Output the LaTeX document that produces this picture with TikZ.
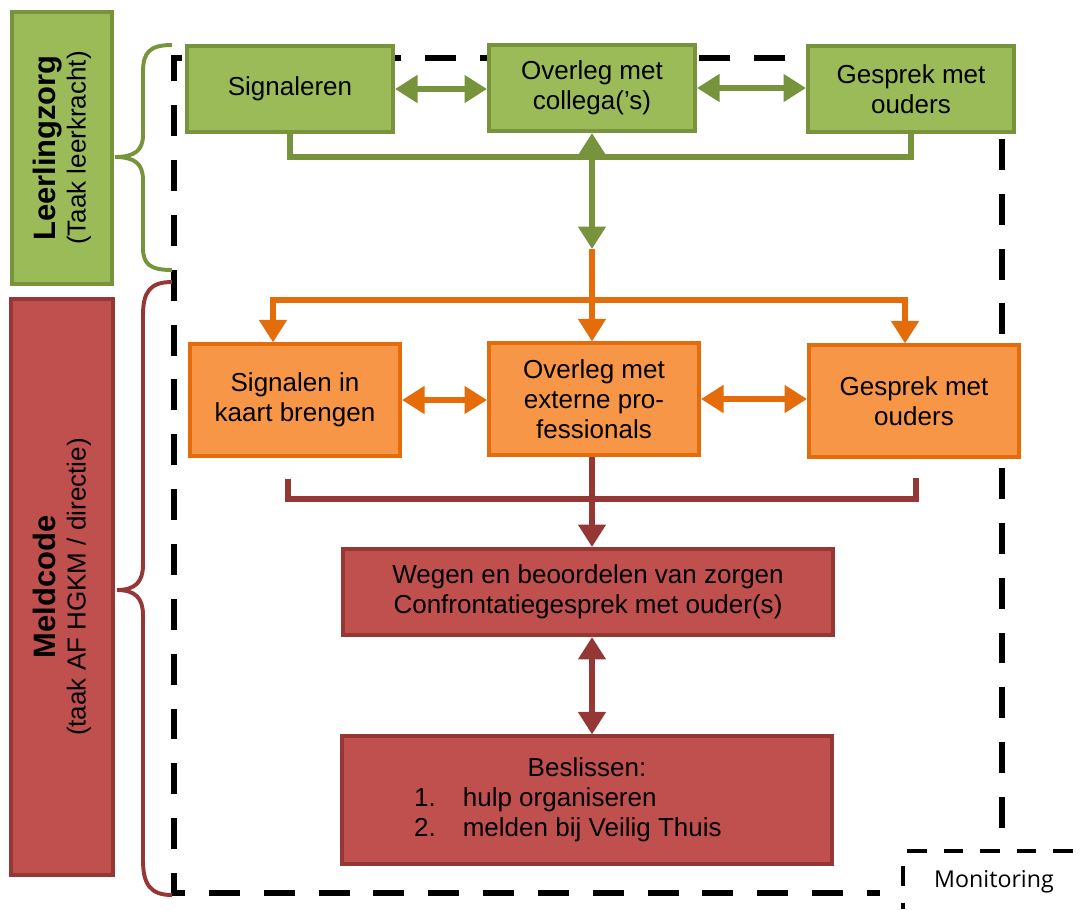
\documentclass[tikz,border=0pt]{standalone}
\usepackage{fontspec}
\setmainfont{Liberation Sans}
\newfontfamily\monfont{Open Sans}
\usetikzlibrary{arrows.meta}

\definecolor{grfill}{HTML}{9BBB59}
\definecolor{grline}{HTML}{77933C}
\definecolor{orfill}{HTML}{F79646}
\definecolor{orline}{HTML}{E46C0A}
\definecolor{rdfill}{HTML}{C0504D}
\definecolor{rdline}{HTML}{953735}

\tikzset{
  bigtip/.tip={Triangle[length=16pt, width=19pt]},
  box/.style={line width=2.8pt, align=center, inner sep=2pt,
    font=\fontsize{18.5}{21.5}\selectfont},
  greenbox/.style={box, draw=grline, fill=grfill, minimum width=5.15cm, minimum height=2.15cm},
  orangebox/.style={box, draw=orline, fill=orfill, minimum width=5.25cm, minimum height=2.78cm},
  redbox/.style={box, draw=rdline, fill=rdfill, minimum width=12.25cm, minimum height=2.15cm},
  sidebox/.style={box, rotate=90, minimum height=2.5cm},
  grarrow/.style={grline, line width=3.9pt},
  orarrow/.style={orline, line width=3.9pt},
  rdarrow/.style={rdline, line width=3.9pt},
  brace/.style={line width=2.8pt},
  frame/.style={line width=4.2pt, dash pattern=on 22pt off 17pt},
  monframe/.style={line width=2.4pt, dash pattern=on 14pt off 12pt}
}

\begin{document}
\begin{tikzpicture}[x=0.025cm, y=-0.025cm]
  \useasboundingbox (0,0) rectangle (1084,909);

  % Dashed frame
  \draw[frame] (1002,828) -- (1002,58) -- (174,58) -- (174,893) -- (880,893);

  % Monitoring
  \draw[monframe] (907,851) -- (1084,851);
  \draw[monframe] (903,866) -- (903,909);
  \node[font=\monfont\fontsize{16.5}{19}\selectfont] (monitor) at (994,882) {Monitoring};

  % Side labels
  \node[sidebox, draw=grline, fill=grfill, minimum width=6.8cm] (leerling) at (62,148)
    {{\fontsize{22}{26}\selectfont\bfseries Leerlingzorg}\\(Taak leerkracht)};
  \node[sidebox, draw=rdline, fill=rdfill, minimum width=14.4cm, minimum height=2.55cm] (meld) at (62,587)
    {{\fontsize{22}{26}\selectfont\bfseries Meldcode}\\(taak AF HGKM / directie)};

  % Braces
  \draw[brace, grline] (172,45) .. controls (150,45) and (143,52) .. (143,72) -- (143,135)
    .. controls (143,150) and (135,157) .. (115,157) .. controls (135,157) and (143,164) .. (143,180)
    -- (143,248) .. controls (143,264) and (150,270) .. (172,270);
  \draw[brace, rdline] (172,282) .. controls (150,282) and (143,292) .. (143,315) -- (143,565)
    .. controls (143,582) and (135,590) .. (117,590) .. controls (135,590) and (143,598) .. (143,615)
    -- (143,860) .. controls (143,884) and (150,895) .. (172,895);

  % Top row
  \node[greenbox] (signal) at (290,89) {Signaleren};
  \node[greenbox] (collega) at (592,88) {Overleg met\\collega(’s)};
  \node[greenbox] (ouders) at (911,89) {Gesprek met\\ouders};

  \draw[grarrow, bigtip-bigtip] (signal.east) -- (signal.east -| collega.west);
  \draw[grarrow, bigtip-bigtip] (collega.east) -- (collega.east -| ouders.west);
  \draw[grarrow] (signal.south) -- (290,157) -| (ouders.south);
  \coordinate (split) at (592,249);
  \draw[grarrow, bigtip-bigtip] (collega.south) -- (split);

  % Middle row
  \node[orangebox] (kaart) at (295,400) {Signalen in\\kaart brengen};
  \node[orangebox] (extern) at (594,399) {Overleg met\\externe pro-\\fessionals};
  \node[orangebox] (ouders2) at (914,401) {Gesprek met\\ouders};

  \coordinate (fork) at (592,300);
  \draw[orarrow, -bigtip] (split) -- (split |- extern.north);
  \draw[orarrow, -bigtip] (fork) -| (273,0 |- kaart.north);
  \draw[orarrow, -bigtip] (fork) -| (905,0 |- ouders2.north);
  \draw[orarrow, bigtip-bigtip] (kaart.east) -- (kaart.east -| extern.west);
  \draw[orarrow, bigtip-bigtip] (extern.east) -- (extern.east -| ouders2.west);

  % Bottom
  \node[redbox] (wegen) at (588,592) {Wegen en beoordelen van zorgen\\Confrontatiegesprek met ouder(s)};
  \node[redbox, minimum height=3.18cm] (beslis) at (587,800)
    {Beslissen:\\\makebox[246pt][l]{\makebox[34.7pt][l]{1.}hulp organiseren}\\
     \makebox[246pt][l]{\makebox[34.7pt][l]{2.}melden bij Veilig Thuis}};

  \draw[rdarrow] (288,479) -- (288,499) -- (916,499) -- (916,478);
  \draw[rdarrow, -bigtip] (split |- extern.south) -- (split |- wegen.north);
  \draw[rdarrow, bigtip-bigtip] (split |- wegen.south) -- (split |- beslis.north);
\end{tikzpicture}
\end{document}
